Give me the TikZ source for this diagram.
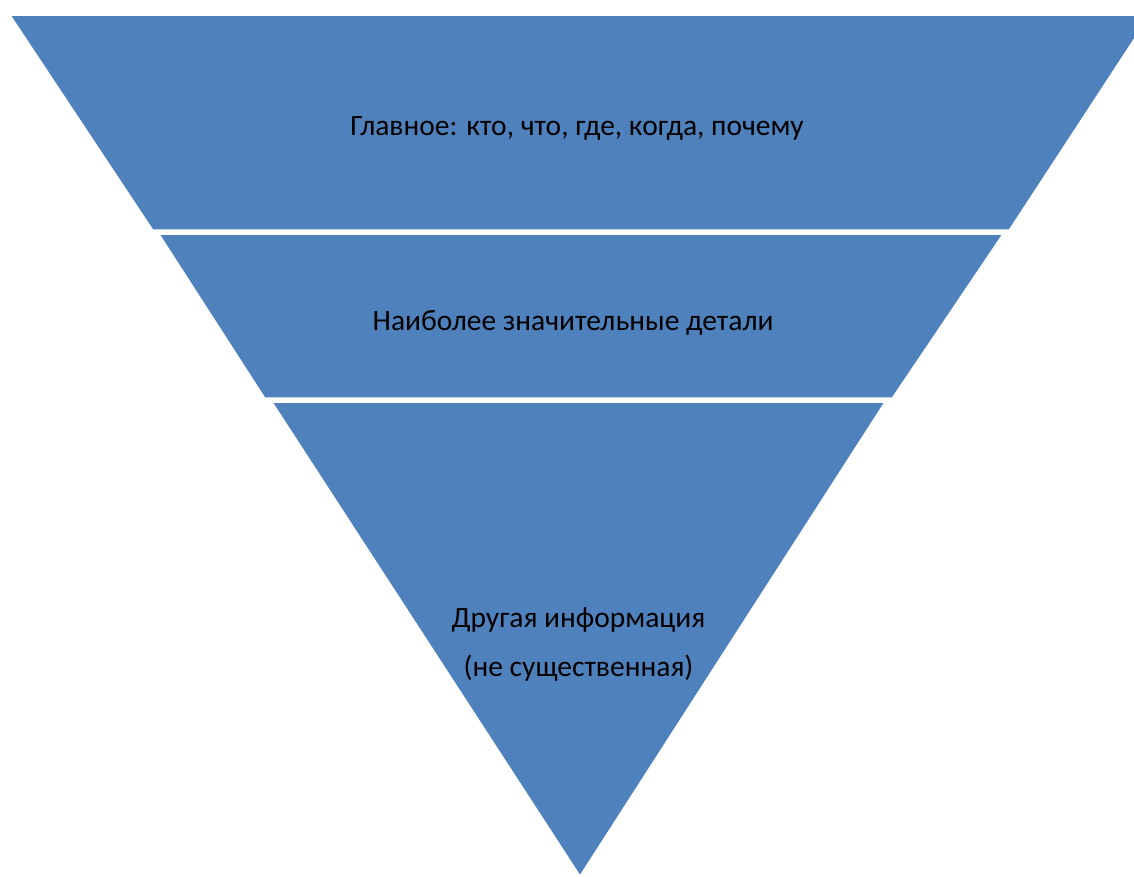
\documentclass[tikz,border=0pt]{standalone}
\usepackage{fontspec}
\setmainfont{Carlito}
\definecolor{bandblue}{HTML}{4F81BD}
\begin{document}
\begin{tikzpicture}[x=1pt,y=-1pt,
  band/.style={fill=bandblue,draw=white,line width=3.5pt,line join=round},
  lbl/.style={font=\fontsize{29.5}{35}\selectfont,text=black,inner sep=0pt,align=center}]
\useasboundingbox (0,0) rectangle (1134,876);
\clip (0,0) rectangle (1134,876);
\fill[white] (0,0) rectangle (1134,876);
\filldraw[band] (8,14) -- (1152,14) -- (1010,231) -- (152,231) -- cycle;
\filldraw[band] (157,233) -- (1005,233) -- (893,399) -- (264,399) -- cycle;
\filldraw[band] (270,401) -- (887,401) -- (580,878) -- cycle;
\node[lbl] (t1) at (577,128) {Главное: кто, что, где, когда, почему};
\node[lbl] (t2) at (573,323) {Наиболее значительные детали};
\node[lbl] (t3) at (578.5,620) {Другая информация};
\node[lbl] (t4) at (578.5,668) {(не существенная)};
\end{tikzpicture}
\end{document}
